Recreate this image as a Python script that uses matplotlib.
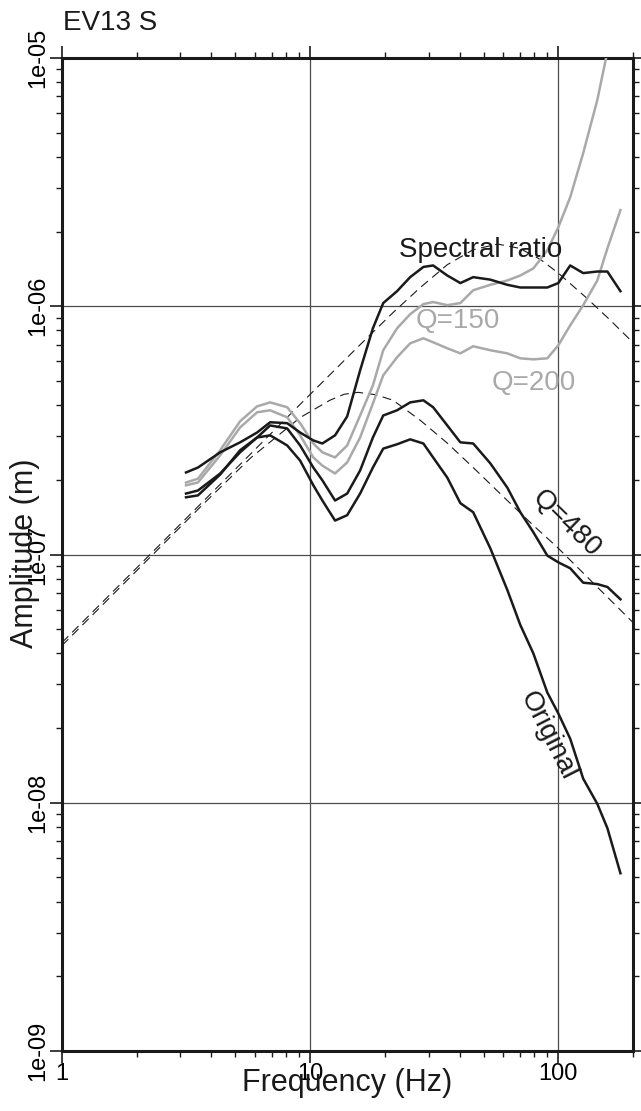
import matplotlib
matplotlib.use("Agg")
import matplotlib.pyplot as plt
from matplotlib.ticker import NullFormatter

plt.rcParams["font.family"] = ["Liberation Sans", "DejaVu Sans"]

BLACK = "#1a1a1a"
GREY = "#a9a9a9"
LW = 1.8

# --- data --------------------------------------------------------------------

freq = [3.16, 3.53, 4.34, 5.22, 6.11, 6.90, 8.08, 9.11, 10.3, 11.2, 12.6,
        14.1, 15.9, 17.9, 19.7, 22.4, 25.3, 28.6, 31.3, 35.7, 40.3, 45.4,
        53.2, 62.3, 70.3, 79.3, 90.3, 100, 111.7, 126, 143.6, 157.7, 178]

spectral_ratio = [2.14e-7, 2.24e-7, 2.58e-7, 2.83e-7, 3.10e-7, 3.41e-7,
                  3.38e-7, 3.10e-7, 2.88e-7, 2.80e-7, 3.02e-7, 3.60e-7,
                  5.52e-7, 8.15e-7, 1.03e-6, 1.15e-6, 1.31e-6, 1.44e-6,
                  1.46e-6, 1.33e-6, 1.24e-6, 1.31e-6, 1.28e-6, 1.22e-6,
                  1.19e-6, 1.19e-6, 1.19e-6, 1.24e-6, 1.46e-6, 1.36e-6,
                  1.38e-6, 1.38e-6, 1.15e-6]

q150 = [1.95e-7, 2.02e-7, 2.63e-7, 3.44e-7, 3.95e-7, 4.10e-7, 3.92e-7,
        3.38e-7, 2.80e-7, 2.58e-7, 2.46e-7, 2.75e-7, 3.63e-7, 4.80e-7,
        6.65e-7, 8.15e-7, 9.29e-7, 1.02e-6, 1.04e-6, 1.01e-6, 1.03e-6,
        1.16e-6, 1.22e-6, 1.27e-6, 1.33e-6, 1.42e-6, 1.68e-6, 2.08e-6,
        2.75e-6, 4.14e-6, 6.77e-6, 1.06e-5]

q200 = [1.90e-7, 1.95e-7, 2.51e-7, 3.25e-7, 3.74e-7, 3.81e-7, 3.57e-7,
        3.02e-7, 2.46e-7, 2.28e-7, 2.12e-7, 2.35e-7, 2.96e-7, 4.06e-7,
        5.27e-7, 6.23e-7, 7.09e-7, 7.43e-7, 7.16e-7, 6.77e-7, 6.46e-7,
        6.90e-7, 6.65e-7, 6.46e-7, 6.17e-7, 6.11e-7, 6.17e-7, 6.96e-7,
        8.38e-7, 1.01e-6, 1.27e-6, 1.71e-6, 2.44e-6]

q480 = [1.76e-7, 1.81e-7, 2.12e-7, 2.58e-7, 2.96e-7, 3.31e-7, 3.22e-7,
        2.75e-7, 2.24e-7, 1.99e-7, 1.65e-7, 1.76e-7, 2.18e-7, 2.96e-7,
        3.63e-7, 3.81e-7, 4.10e-7, 4.18e-7, 3.92e-7, 3.31e-7, 2.83e-7,
        2.80e-7, 2.33e-7, 1.86e-7, 1.48e-7, 1.23e-7, 9.9e-8, 9.3e-8,
        8.8e-8, 7.7e-8, 7.6e-8, 7.4e-8, 6.6e-8]

original = [1.70e-7, 1.73e-7, 2.10e-7, 2.63e-7, 2.96e-7, 3.02e-7, 2.75e-7,
            2.39e-7, 1.90e-7, 1.65e-7, 1.37e-7, 1.44e-7, 1.76e-7, 2.24e-7,
            2.67e-7, 2.78e-7, 2.91e-7, 2.80e-7, 2.46e-7, 2.04e-7, 1.61e-7,
            1.48e-7, 1.06e-7, 7.2e-8, 5.2e-8, 4.0e-8, 2.78e-8, 2.29e-8,
            1.81e-8, 1.25e-8, 9.9e-9, 7.9e-9, 5.2e-9]

# source model curves (dashed)
model_lo_freq = [1, 3.6, 5.73, 9.11, 12.0, 13.7, 15.6, 18.4, 21.6, 27.8,
                 35.7, 45.4, 62.3, 79.3, 99, 200]
model_lo = [4.30e-8, 1.55e-7, 2.44e-7, 3.56e-7, 4.18e-7, 4.42e-7, 4.50e-7,
            4.40e-7, 4.18e-7, 3.47e-7, 2.81e-7, 2.24e-7, 1.65e-7, 1.31e-7,
            1.07e-7, 5.32e-8]

model_hi_freq = [1, 3.6, 9.1, 15.6, 21.6, 27.8, 35.7, 45.4, 57, 70, 85, 100,
                 130, 160, 200]
model_hi = [4.42e-8, 1.59e-7, 4.02e-7, 6.87e-7, 9.44e-7, 1.19e-6, 1.47e-6,
            1.69e-6, 1.78e-6, 1.71e-6, 1.54e-6, 1.36e-6, 1.08e-6, 8.89e-7,
            7.14e-7]

x_ticks = [1, 10, 100]
x_tick_labels = ["1", "10", "100"]
y_ticks = [1e-9, 1e-8, 1e-7, 1e-6, 1e-5]
y_tick_labels = ["1e-09", "1e-08", "1e-07", "1e-06", "1e-05"]

# --- figure -------------------------------------------------------------------

fig = plt.figure(figsize=(6.41, 11.11), dpi=100)
ax = fig.add_axes([62 / 641, 1 - 1051 / 1111, 571 / 641, 993 / 1111])
ax.set_xscale("log")
ax.set_yscale("log")
ax.set_xlim(1, 200)
ax.set_ylim(1e-9, 1e-5)

ax.grid(True, which="major", color="0.3", lw=0.9, zorder=0)

dash = dict(c=BLACK, lw=0.8, dashes=(8, 5), zorder=2)
ax.plot(model_lo_freq, model_lo, **dash)
ax.plot(model_hi_freq, model_hi, **dash)

ax.plot(freq[:len(q150)], q150, c=GREY, lw=LW, zorder=3)
ax.plot(freq, q200, c=GREY, lw=LW, zorder=3)
ax.plot(freq, spectral_ratio, c=BLACK, lw=LW, zorder=4)
ax.plot(freq, q480, c=BLACK, lw=LW, zorder=4)
ax.plot(freq, original, c=BLACK, lw=LW, zorder=4)

ax.text(48.5, 1.58e-6, "Spectral ratio", fontsize=20, color=BLACK,
        ha="center", va="baseline", zorder=5)
ax.text(39.5, 8.15e-7, "Q=150", fontsize=20, color=GREY,
        ha="center", va="baseline", zorder=5)
ax.text(79.3, 4.58e-7, "Q=200", fontsize=20, color=GREY,
        ha="center", va="baseline", zorder=5)
ax.text(107.7, 1.33e-7, "Q=480", fontsize=20, color=BLACK, rotation=-44,
        rotation_mode="anchor", ha="center", va="center", zorder=5)
ax.text(91.2, 1.86e-8, "Original", fontsize=20, color=BLACK, rotation=-63,
        rotation_mode="anchor", ha="center", va="center", zorder=5)

ax.set_xticks(x_ticks, labels=x_tick_labels)
ax.set_yticks(y_ticks, labels=y_tick_labels, rotation=90, va="center")
ax.xaxis.set_minor_formatter(NullFormatter())
ax.yaxis.set_minor_formatter(NullFormatter())
ax.tick_params(which="both", direction="out", top=True, right=True,
               labelsize=17, pad=0.5, color=BLACK)
ax.tick_params(which="major", length=8.5, width=1.2)
ax.tick_params(which="minor", length=4.5, width=1.0)
for s in ax.spines.values():
    s.set_linewidth(2.2)
    s.set_color(BLACK)

fig.text(63 / 641, 1 - 30 / 1111, "EV13 S", fontsize=20, color=BLACK,
         ha="left", va="baseline")
fig.text(347 / 641, 1 - 1083 / 1111, "Frequency (Hz)", fontsize=22,
         color=BLACK, ha="center", va="center")
fig.text(25 / 641, 1 - 553 / 1111, "Amplitude (m)", fontsize=22,
         color=BLACK, rotation=90, ha="center", va="center")

fig.savefig("out.png", dpi=100)
